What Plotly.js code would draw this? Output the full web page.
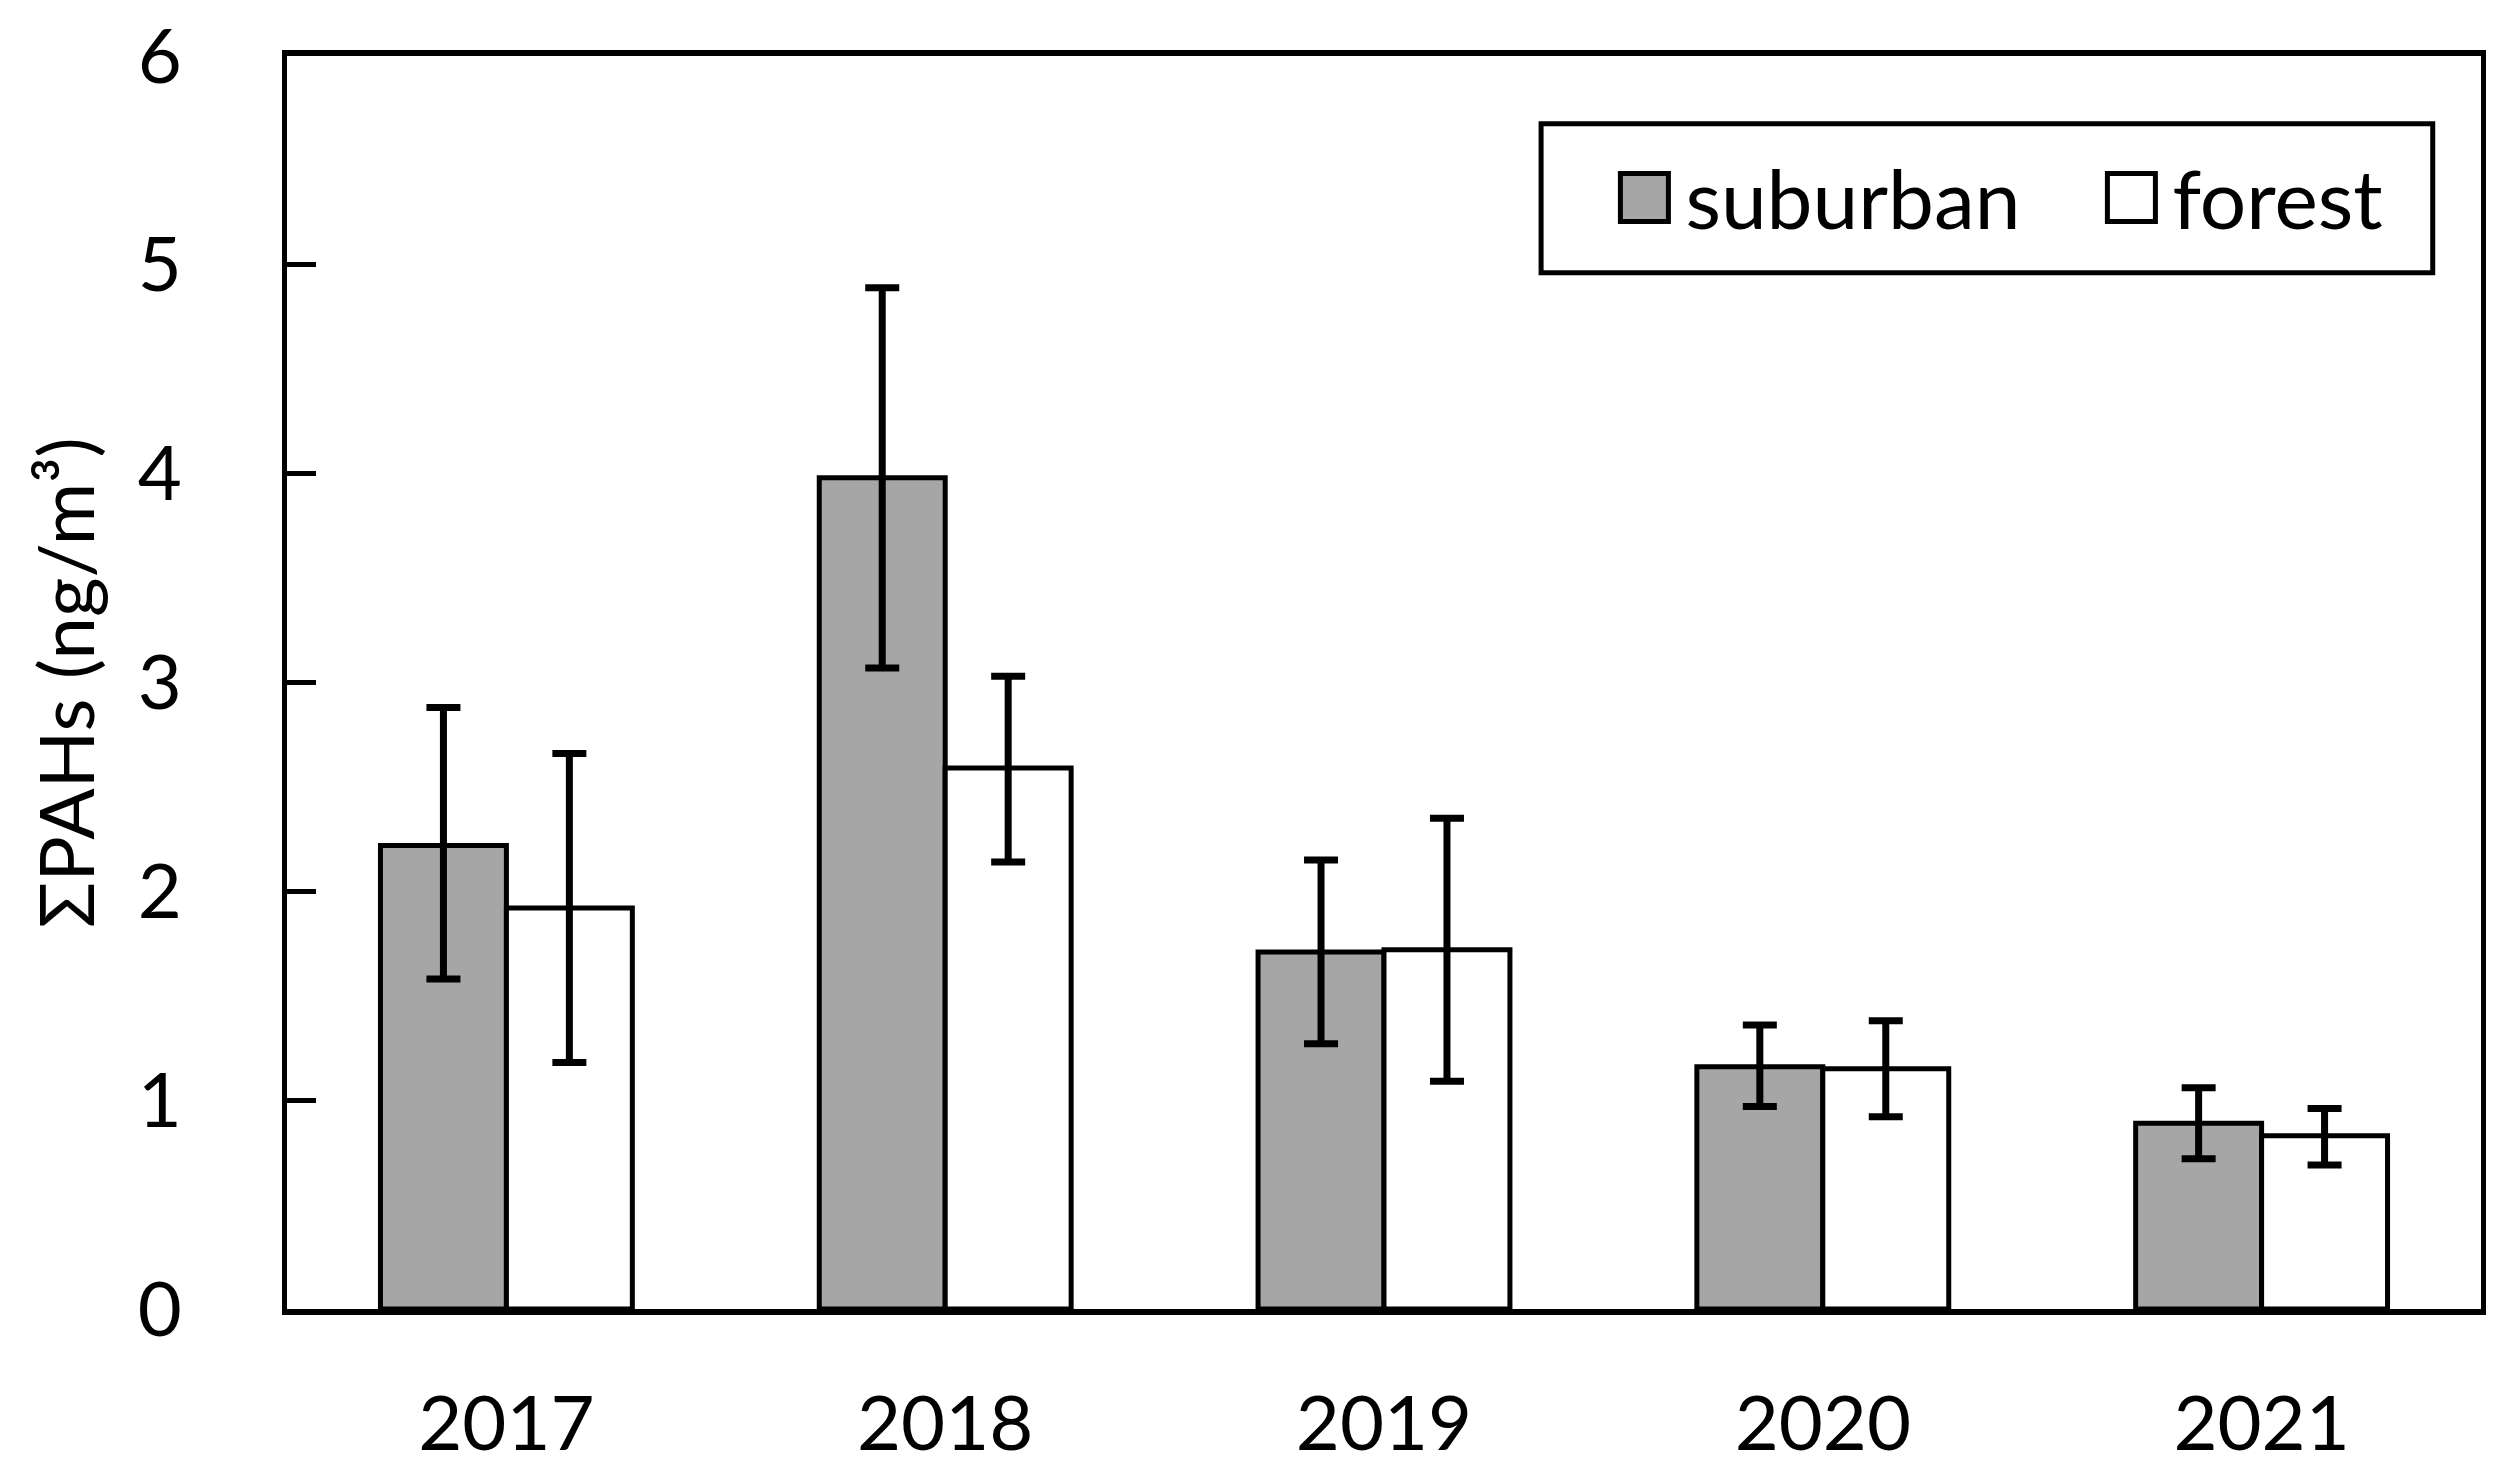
<!DOCTYPE html>
<html>
<head>
<meta charset="utf-8">
<script src="https://cdn.plot.ly/plotly-3.0.1.min.js"></script>
<style>html,body{margin:0;padding:0;background:#fff;}#chart{width:2517px;height:1470px;}</style>
</head>
<body>
<div id="chart"></div>
<script>
const years = ["2017", "2018", "2019", "2020", "2021"];
const suburban = [2.22, 3.98, 1.71, 1.16, 0.89];
const suburbanErrPlus = [0.66, 0.91, 0.44, 0.20, 0.17];
const suburbanErrMinus = [0.64, 0.91, 0.44, 0.19, 0.17];
const forest = [1.92, 2.59, 1.72, 1.15, 0.83];
const forestErrPlus = [0.74, 0.44, 0.63, 0.23, 0.13];
const forestErrMinus = [0.74, 0.45, 0.63, 0.23, 0.14];
const seriesNames = ["suburban", "forest"];
const yTicks = [0, 1, 2, 3, 4, 5, 6];

const FONT = "Lato, 'Open Sans', sans-serif";
const FS = 76;

const traces = [
  {
    type: "bar", name: seriesNames[0], x: years, y: suburban,
    marker: {color: "#a6a6a6", line: {color: "#000", width: 5}},
    error_y: {type: "data", symmetric: false, array: suburbanErrPlus, arrayminus: suburbanErrMinus,
              color: "#000", thickness: 7, width: 17}
  },
  {
    type: "bar", name: seriesNames[1], x: years, y: forest,
    marker: {color: "#ffffff", line: {color: "#000", width: 5}},
    error_y: {type: "data", symmetric: false, array: forestErrPlus, arrayminus: forestErrMinus,
              color: "#000", thickness: 7, width: 17}
  }
];

const layout = {
  width: 2517, height: 1470,
  paper_bgcolor: "#fff", plot_bgcolor: "#fff",
  margin: {l: 287, r: 36, t: 56, b: 161, pad: 0, autoexpand: false},
  font: {family: FONT, size: FS, color: "#000"},
  barmode: "group", bargap: 0.426, bargroupgap: 0,
  showlegend: true,
  legend: {
    orientation: "h", x: 0.600, y: 0.887, xanchor: "left", yanchor: "middle",
    bgcolor: "rgba(0,0,0,0)", borderwidth: 0,
    font: {family: FONT, size: 82, color: "#000"},
    itemwidth: 72, entrywidth: 400, entrywidthmode: "pixels", traceorder: "normal"
  },
  xaxis: {
    type: "category", showline: true, linecolor: "#000", linewidth: 6, mirror: true,
    ticks: "", showgrid: false, zeroline: false,
    tickfont: {family: FONT, size: FS, color: "#000"},
    ticklabelstandoff: 44, automargin: false
  },
  yaxis: {
    range: [0, 6], tickvals: yTicks, ticktext: yTicks.map(String),
    showline: true, linecolor: "#000", linewidth: 5, mirror: true,
    ticks: "inside", ticklen: 29, tickwidth: 5, tickcolor: "#000",
    showgrid: false, zeroline: false,
    tickfont: {family: FONT, size: FS, color: "#000"},
    ticklabelstandoff: 85, automargin: false,
    title: {text: "ΣPAHs (ng/m³)", font: {family: FONT, size: FS, color: "#000"}, standoff: 20}
  },
  shapes: [
    {type: "rect", xref: "paper", yref: "paper", x0: 0.5716, x1: 0.978, y0: 0.827, y1: 0.946,
     line: {color: "#000", width: 5}, fillcolor: "rgba(0,0,0,0)", layer: "above"}
  ]
};

Plotly.newPlot("chart", traces, layout, {displayModeBar: false, staticPlot: true}).then(function () {
  document.querySelectorAll("#chart .legendpoints path").forEach(function (p) {
    p.setAttribute("d", "M24,24H-24V-24H24Z");
    p.style.strokeWidth = "5px";
  });
});
</script>
</body>
</html>
